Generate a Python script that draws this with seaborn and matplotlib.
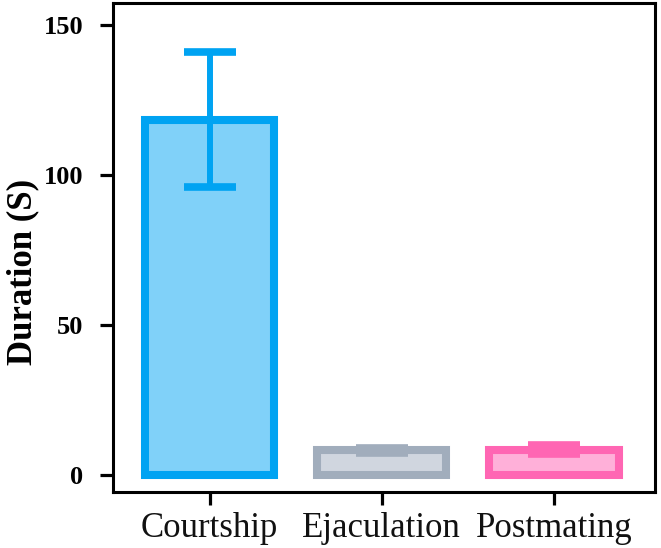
import matplotlib
matplotlib.use("Agg")
import matplotlib.pyplot as plt
import numpy as np
import seaborn as sns

categories = ["Courtship", "Ejaculation", "Postmating"]
means = [118.5, 8.2, 8.5]
errors = [22.5, 0.9, 1.5]
edge_colors = ["#00A3F2", "#A1ADBC", "#FF66B3"]
fill_colors = ["#80D1F9", "#D0D6DF", "#FFB0D9"]
yticks = [0, 50, 100, 150]

sns.set_theme(style="white")
plt.rcParams["font.family"] = ["Liberation Serif", "DejaVu Serif"]

fig = plt.figure(figsize=(6.61, 5.48), dpi=100)
ax = fig.add_axes([0.171, 0.102, 0.82, 0.8925])

sns.barplot(x=categories, y=means, hue=categories, palette=fill_colors,
            saturation=1, width=0.75, errorbar=None, legend=False, ax=ax)
for patch, ec in zip(ax.patches, edge_colors):
    patch.set_edgecolor(ec)
    patch.set_linewidth(5.8)

for i, (m, e, c) in enumerate(zip(means, errors, edge_colors)):
    ax.errorbar(i, m, yerr=e, color=c, elinewidth=4.3, capsize=18.5,
                capthick=5.5, fmt="none", zorder=5)

ax.set_xlim(-0.56, 2.586)
ax.set_ylim(-5.7, 157.5)
ax.set_yticks(yticks)
ax.set_yticklabels([str(t) for t in yticks], fontsize=19, fontweight="bold",
                   color="black")
ax.tick_params(axis="both", which="both", direction="out", length=9.5,
               width=2.3, color="black", left=True, bottom=True)
ax.tick_params(axis="y", pad=12)
ax.tick_params(axis="x", labelsize=25, pad=5, labelcolor="#111111")
ax.set_xlabel("")
ax.set_ylabel("Duration (S)", fontsize=25, fontweight="bold", color="black")
ax.yaxis.set_label_coords(-0.136, 0.45)
for side in ["left", "bottom", "right", "top"]:
    ax.spines[side].set_visible(True)
    ax.spines[side].set_color("black")
    ax.spines[side].set_linewidth(2.2)

fig.savefig("out.png", dpi=100)
